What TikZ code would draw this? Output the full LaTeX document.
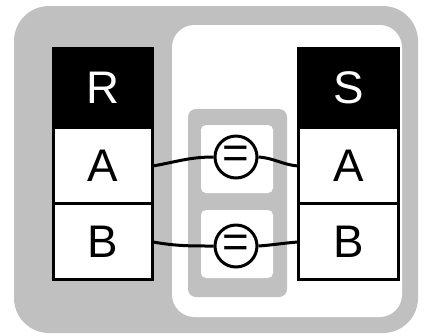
\documentclass[tikz,border=0pt]{standalone}
\usepackage{fontspec}
\setmainfont{Liberation Sans}
\usetikzlibrary{positioning}
\definecolor{boxgray}{RGB}{192,192,192}

\tikzset{
  tblhead/.style={fill=black, draw=black, text=white, minimum width=2cm,
    minimum height=1.6cm, inner sep=0pt, outer sep=0pt},
  tblfield/.style={fill=white, draw=black, minimum width=2cm,
    minimum height=1.52cm, inner sep=0pt, outer sep=0pt},
  eqop/.style={circle, draw=black, fill=white, minimum size=0.84cm,
    inner sep=0pt},
}

\begin{document}
\begin{tikzpicture}[x=0.02cm, y=-0.02cm, line width=0.06cm,
  font=\fontsize{26}{30}\selectfont]
\useasboundingbox (0,0) rectangle (429,335);

% frames
\fill[boxgray, rounded corners=0.7cm] (14,6) rectangle (418,333);
\fill[white, rounded corners=0.45cm] (172,25) rectangle (402,317);
\fill[boxgray, rounded corners=0.16cm] (188,109) rectangle (287,297);
\fill[white, rounded corners=0.1cm] (201,125) rectangle (273,193);
\fill[white, rounded corners=0.1cm] (201,210) rectangle (273,278);

% relation R
\node[tblhead] (R) at (103,88) {R};
\node[tblfield, below=0pt of R] (RA) {A};
\node[tblfield, below=0pt of RA] (RB) {B};

% relation S
\node[tblhead] (S) at (348.5,88) {S};
\node[tblfield, below=0pt of S] (SA) {A};
\node[tblfield, below=0pt of SA] (SB) {B};

% join conditions
\node[eqop] (eqA) at (236,157) {=};
\node[eqop] (eqB) at (236,246) {=};

\draw (RA.east) to[out=10, in=180] (eqA.west);
\draw (eqA.east) to[out=-4, in=176] (SA.west);
\draw (RB.east) to[out=-10, in=180] (eqB.west);
\draw (eqB.east) to[out=4, in=184] (SB.west);
\end{tikzpicture}
\end{document}
